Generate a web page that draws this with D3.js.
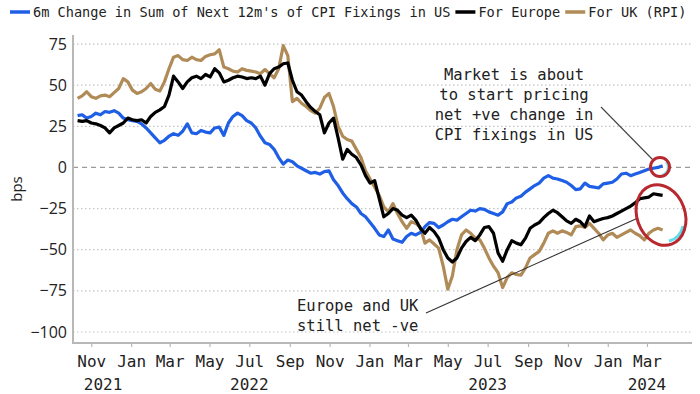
<!DOCTYPE html>
<html>
<head>
  <meta charset="utf-8">
  <title>CPI fixings</title>
  <script src="https://d3js.org/d3.v7.min.js"></script>
  <style>
    body { margin: 0; background: #fff; }
    text { fill: #222; }
  </style>
</head>
<body>
<script>
var w = 700, h = 394;

// weekly observations, Mondays from 11 Oct 2021 to 25 Mar 2024
var dates = d3.timeMonday.range(new Date(2021, 9, 11), new Date(2024, 2, 26));

var usVals = [31.5,32,30,31,33,32,34,33.5,34.5,33,
  30,29,28.5,28,26.5,24,21,18,15,16.5,
  19,20.5,19.5,22,26.5,21,20.5,22.5,21.5,21,
  24,24.5,19.5,27,31,33,31.5,28.5,27,24,
  19,15,14,11,6,2,4.5,3.5,1,-0.5,
  -2,-3.5,-3,-4,-2.5,-2,-7.5,-11,-15.5,-19,
  -22,-24,-28,-30,-33.5,-37,-41,-42,-38,-43.5,
  -44.5,-45.5,-42,-40,-41,-39.5,-36,-33.5,-34,-36.5,
  -35,-33,-31.5,-32,-30,-28,-26,-26.5,-25,-25.5,
  -27,-28,-29,-27,-22,-21,-18.5,-17.5,-15,-13,
  -11,-9.5,-6.5,-5,-6.5,-7,-8,-9,-11,-13.5,
  -13,-9.5,-11.5,-12,-12.5,-10,-9.5,-9,-7,-4,
  -3.5,-5,-4,-3,-2,-1,-0.5,0,1];

var euVals = [28.5,28,28.5,27,26.5,25.5,24,21,24,25.5,
  27,30,29,28.5,29,27,31,33.5,35,37,
  44,55.5,52,48,52,54.5,55.5,54,56.5,55,
  60,57.5,52,53,54.5,55.5,55,54,54.5,54,
  55.5,50,57,60,61,63,63.5,53,46,44,
  40,36.5,34,32,21,27,30,18,5,11,
  8,6,1.5,-5,-9.5,-8,-19,-30,-28,-25,
  -26,-29,-30.5,-29,-32,-37,-40,-36.5,-39,-43,
  -50,-55,-57.5,-55,-49,-45,-42.5,-44.5,-41,-36.5,
  -36,-40,-52,-57,-50,-44.5,-46,-47,-43,-37,
  -35,-33.5,-30.5,-28,-26,-27.5,-30,-32.5,-34,-31.5,
  -33,-36,-29.5,-33,-32,-31,-30.5,-29.5,-28,-26.5,
  -25,-23.5,-21.5,-19,-18.5,-18,-16,-16.5,-17];

var ukVals = [42,43.5,46,43,42,43.5,44,43,45.5,48,
  54,52,47,45,46,48,51,47.5,46.5,52,
  60,67,68,65.5,65,67,65.5,65,67.5,68.5,
  69,71.5,61,60,58.5,58,60,59,58.5,58,
  57,59.5,57,54.5,60,74,68,40,42,39,
  37,34.5,33,36,42.5,45,37,25,19,17,
  16,11,6,-2,-7,-12,-17,-24,-27,-22,
  -28,-33,-37,-33,-34,-36.5,-46,-44,-46.5,-49,
  -60,-74,-66,-50,-41,-38,-40,-43,-44,-49,
  -55,-60,-64,-73,-67,-64,-65,-65.5,-61,-55,
  -53,-51,-46,-40,-38.5,-40,-38.5,-39.5,-41,-36,
  -35.5,-36.5,-34,-37,-40,-44,-41,-40,-42.5,-41,
  -39.5,-38,-40,-41.5,-44,-40,-38,-37,-38];

var yTicks = [75, 50, 25, 0, -25, -50, -75, -100];
var monthTicks = ["2021-11-01","2022-01-01","2022-03-01","2022-05-01","2022-07-01","2022-09-01",
  "2022-11-01","2023-01-01","2023-03-01","2023-05-01","2023-07-01","2023-09-01",
  "2023-11-01","2024-01-01","2024-03-01"];
var yearLabels = ["2021", "2022", "2023", "2024"];
var yearAt = ["2021-11-19", "2022-07-01", "2023-07-01", "2024-03-01"];

var seriesNames = ["6m Change in Sum of Next 12m's of CPI Fixings in US", "For Europe", "For UK (RPI)"];
var seriesColors = ["#1f5fe6", "#000000", "#b08b57"];

var parse = d3.timeParse("%Y-%m-%d");
var mono = "'DejaVu Sans Mono', monospace";
var sans = "'Open Sans', 'Liberation Sans', sans-serif";

var x = d3.scaleTime()
  .domain([parse("2021-10-04"), parse("2024-05-09")])
  .range([73, 692]);
var y = d3.scaleLinear()
  .domain([-106.7, 80.5])
  .range([343, 35]);

var svg = d3.select("body").append("svg")
  .attr("width", w)
  .attr("height", h);

// grid
svg.selectAll("line.grid")
  .data(yTicks)
  .enter()
  .append("line")
  .attr("class", "grid")
  .attr("x1", 73).attr("x2", 692)
  .attr("y1", function (d) { return y(d); })
  .attr("y2", function (d) { return y(d); })
  .attr("stroke", function (d) { return d === 0 ? "#9a9a9a" : "#c4c4c4"; })
  .attr("stroke-width", function (d) { return d === 0 ? 1.3 : 1.2; })
  .attr("stroke-dasharray", function (d) { return d === 0 ? "5,4" : "1.5,2.5"; });

// axes frame
svg.append("line").attr("x1", 73).attr("x2", 73).attr("y1", 35).attr("y2", 343)
  .attr("stroke", "#b8b8b8").attr("stroke-width", 2);
svg.append("line").attr("x1", 72).attr("x2", 692).attr("y1", 343).attr("y2", 343)
  .attr("stroke", "#b8b8b8").attr("stroke-width", 2);

var yAxis = svg.append("g")
  .attr("transform", "translate(73,0)")
  .call(d3.axisLeft(y).tickValues(yTicks).tickSize(0).tickPadding(6));
yAxis.select(".domain").remove();
yAxis.selectAll("text")
  .attr("font-family", sans)
  .attr("font-size", "16px")
  .attr("fill", "#222");

var xAxis = svg.append("g")
  .attr("transform", "translate(0,343)")
  .call(d3.axisBottom(x)
    .tickValues(monthTicks.map(parse))
    .tickSize(4)
    .tickFormat(d3.timeFormat("%b")));
xAxis.select(".domain").remove();
xAxis.selectAll("line").attr("stroke", "#b8b8b8").attr("stroke-width", 1.2);
xAxis.selectAll("text")
  .attr("y", 24)
  .attr("dy", null)
  .attr("font-family", mono)
  .attr("font-size", "16px")
  .attr("fill", "#222");

svg.selectAll("text.year")
  .data(yearLabels)
  .enter()
  .append("text")
  .attr("class", "year")
  .attr("x", function (d, i) { return x(parse(yearAt[i])); })
  .attr("y", 390)
  .attr("text-anchor", "middle")
  .attr("font-family", mono)
  .attr("font-size", "16px")
  .text(function (d) { return d; });

svg.append("text")
  .attr("transform", "translate(22,189) rotate(-90)")
  .attr("text-anchor", "middle")
  .attr("font-family", sans)
  .attr("font-size", "15px")
  .text("bps");

// lines: UK under, then US, Europe on top
var line = d3.line()
  .x(function (d) { return x(d[0]); })
  .y(function (d) { return y(d[1]); });

var series = [usVals, euVals, ukVals];
[2, 0, 1].forEach(function (k) {
  svg.append("path")
    .datum(dates.map(function (d, i) { return [d, series[k][i]]; }))
    .attr("d", line)
    .attr("fill", "none")
    .attr("stroke", seriesColors[k])
    .attr("stroke-width", 3.2)
    .attr("stroke-linejoin", "round");
});

// legend
var lx = 10;
seriesNames.forEach(function (name, i) {
  svg.append("line")
    .attr("x1", lx).attr("x2", lx + 20)
    .attr("y1", 12).attr("y2", 12)
    .attr("stroke", seriesColors[i])
    .attr("stroke-width", 3.5);
  var t = svg.append("text")
    .attr("x", lx + 23)
    .attr("y", 17)
    .attr("font-family", mono)
    .attr("font-size", "13.6px")
    .text(name);
  lx += 23 + t.node().getComputedTextLength() + 5;
});

// annotations
var note1 = ["Market is about", "to start pricing", "net +ve change in", "CPI fixings in US"];
svg.selectAll("text.note1")
  .data(note1)
  .enter()
  .append("text")
  .attr("x", 514)
  .attr("y", function (d, i) { return 80 + i * 20; })
  .attr("text-anchor", "middle")
  .attr("font-family", mono)
  .attr("font-size", "15.5px")
  .text(function (d) { return d; });

var note2 = ["Europe and UK", "still net -ve"];
svg.selectAll("text.note2")
  .data(note2)
  .enter()
  .append("text")
  .attr("x", 297)
  .attr("y", function (d, i) { return 311 + i * 20; })
  .attr("font-family", mono)
  .attr("font-size", "15.5px")
  .text(function (d) { return d; });

svg.append("line").attr("x1", 601).attr("y1", 107).attr("x2", 653).attr("y2", 160)
  .attr("stroke", "#444").attr("stroke-width", 1.1);
svg.append("line").attr("x1", 426).attr("y1", 313).attr("x2", 638).attr("y2", 218)
  .attr("stroke", "#333").attr("stroke-width", 1.1);

svg.append("path")
  .attr("d", "M666,162 A8,8 0 0 1 662,175")
  .attr("fill", "none").attr("stroke", "#8fe3f0").attr("stroke-width", 2.5);
svg.append("circle")
  .attr("cx", 660).attr("cy", 167).attr("r", 9.5)
  .attr("fill", "none").attr("stroke", "#b8282f").attr("stroke-width", 3);

svg.append("path")
  .attr("d", "M683,226 A21,27 -20 0 1 669,241")
  .attr("fill", "none").attr("stroke", "#5fdcec").attr("stroke-width", 3);
svg.append("ellipse")
  .attr("cx", 0).attr("cy", 0).attr("rx", 24).attr("ry", 31)
  .attr("transform", "translate(661,215) rotate(-20)")
  .attr("fill", "none").attr("stroke", "#b8282f").attr("stroke-width", 3);
</script>
</body>
</html>
